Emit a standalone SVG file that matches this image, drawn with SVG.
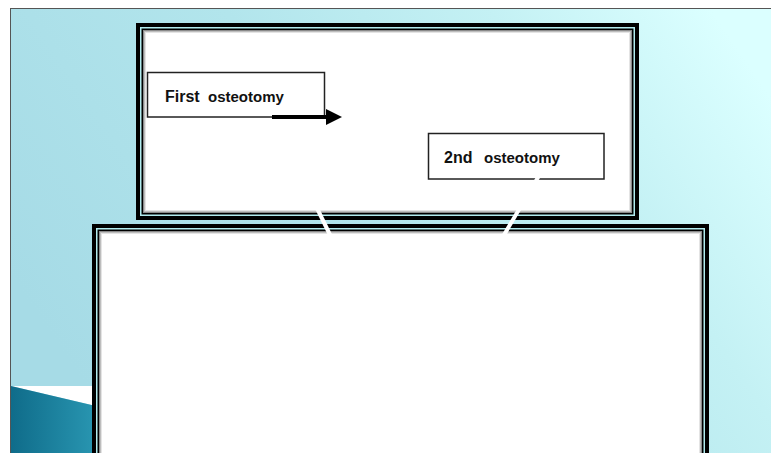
<svg xmlns="http://www.w3.org/2000/svg" width="771" height="453" viewBox="0 0 771 453">
<defs>
<linearGradient id="bg" x1="0" y1="0.6" x2="1" y2="0.2">
<stop offset="0" stop-color="#a6dbe6"/>
<stop offset="0.45" stop-color="#b2e5ec"/>
<stop offset="0.75" stop-color="#c4f1f4"/>
<stop offset="1" stop-color="#dbffff"/>
</linearGradient>
<linearGradient id="teal" x1="0" y1="0" x2="1" y2="0">
<stop offset="0" stop-color="#0f6c8a"/>
<stop offset="1" stop-color="#2a98b3"/>
</linearGradient>
<marker id="ah" markerWidth="4" markerHeight="4" refX="0" refY="2" orient="auto" markerUnits="strokeWidth">
<path d="M0,0 L4,2 L0,4 Z" fill="#000"/>
</marker>
<style>
.lbl{fill:#fff;stroke:#222;stroke-width:1.5}
.t{font-family:"Liberation Sans",Arial,sans-serif;fill:#111}
.b{font-weight:bold;font-size:16px}
.s{font-weight:bold;font-size:15px}
.cut{stroke:#fff;stroke-width:4;fill:none}
.fo{fill:#000}
.fc{fill:#b2ecef}
.sh1{fill:none;stroke:#8a8a8a;stroke-width:1}
.sh2{fill:none;stroke:#bdbdbd;stroke-width:1}
.sh3{fill:none;stroke:#e4e4e4;stroke-width:1}
</style>
</defs>
<rect x="0" y="0" width="771" height="453" fill="#fff"/>
<rect x="10" y="8" width="761" height="445" fill="url(#bg)"/>
<path d="M10,8.5 H771 M10.5,8 V453" stroke="#555" stroke-width="1" fill="none"/>
<g id="corner">
<polygon points="11,386 100,386 100,407" fill="#fff"/>
<polygon points="11,386 100,407 100,453 11,453" fill="url(#teal)"/>
</g>
<g id="top-frame">
<rect class="fo" x="136" y="23" width="503" height="197"/>
<rect class="fc" x="140" y="27" width="495" height="189"/>
<rect class="fo" x="141.5" y="28.5" width="492" height="186"/>
<rect x="143" y="30" width="489" height="183" fill="#fff"/>
<rect class="sh1" x="143.5" y="30.5" width="488" height="182"/>
<rect class="sh2" x="144.5" y="31.5" width="486" height="180"/>
<rect class="sh3" x="145.5" y="32.5" width="484" height="178"/>
</g>
<g id="bottom-frame">
<rect class="fo" x="92" y="224" width="617" height="250"/>
<rect class="fc" x="96" y="228" width="609" height="242"/>
<rect class="fo" x="97.5" y="229.5" width="606" height="239"/>
<rect x="99" y="231" width="603" height="236" fill="#fff"/>
<rect class="sh1" x="99.5" y="231.5" width="602" height="235"/>
<rect class="sh2" x="100.5" y="232.5" width="600" height="233"/>
<rect class="sh3" x="101.5" y="233.5" width="598" height="231"/>
</g>
<g id="first-osteotomy">
<rect class="lbl" x="147.5" y="72.5" width="177" height="44.5"/>
<text class="t" x="165" y="101.5"><tspan class="b">First</tspan><tspan class="s" x="208">osteotomy</tspan></text>
</g>
<g id="second-osteotomy">
<rect class="lbl" x="428.5" y="133.5" width="175.5" height="45.5"/>
<text class="t" x="444" y="162.5"><tspan class="b">2nd</tspan><tspan class="s" x="484">osteotomy</tspan></text>
</g>
<g id="connectors">
<line x1="272" y1="117" x2="326" y2="117" stroke="#000" stroke-width="4" marker-end="url(#ah)"/>
<line class="cut" x1="312" y1="198" x2="334" y2="243"/>
<line class="cut" x1="540" y1="174" x2="501" y2="240"/>
</g>
</svg>
